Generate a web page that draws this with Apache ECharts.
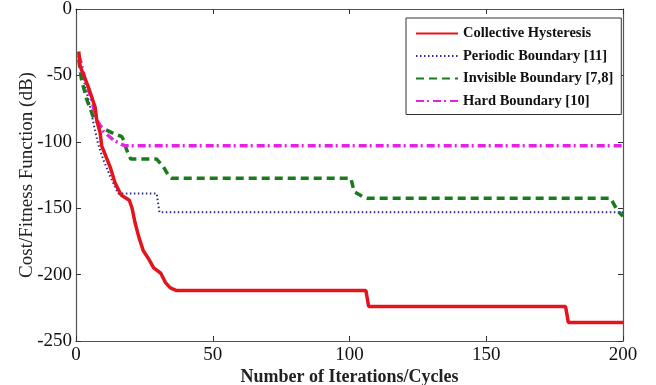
<!DOCTYPE html>
<html>
<head>
<meta charset="utf-8">
<script src="https://cdn.jsdelivr.net/npm/echarts@6/dist/echarts.min.js"></script>
<style>
  html, body { margin: 0; padding: 0; background: #fff; }
  #chart { width: 656px; height: 385px; }
</style>
</head>
<body>
<div id="chart"></div>
<script>
// iterations and cost values
const hysteresisIter = [1, 1.5, 4.4, 7, 7.6, 8.8, 9.4, 12.5, 14.3, 16.5, 19.5, 20.5, 21.6, 23, 24.6, 26.5, 28.4, 31, 32.7, 34.5, 36.8, 106, 107, 179, 180, 200]
const hysteresisVal = [-32, -43, -58, -74, -84, -93, -103, -119, -131, -140, -144, -150, -161, -172, -182, -188, -195, -199, -206, -210, -212, -212, -224, -224, -236, -236]

const periodicIter = [1, 3, 5, 6.5, 8, 9.9, 12.5, 15.4, 29.5, 30.5, 200]
const periodicVal = [-38, -55, -72, -87, -101, -113, -126, -139, -139, -153, -153]

const invisibleIter = [1, 2, 3.9, 6.3, 8.7, 11, 14, 16.7, 17.5, 18.5, 20, 29.5, 32, 34, 35, 100.5, 101.7, 105, 106.5, 195.5, 198, 200]
const invisibleVal = [-38, -53, -68, -81, -88, -91, -94, -96, -99, -106, -113, -113, -119, -126, -127.5, -127.5, -137.5, -141.5, -142.5, -142.5, -152, -156]

const hardIter = [1, 1.5, 3.3, 5.7, 7.5, 10, 13.6, 16.7, 18, 200]
const hardVal = [-35, -38, -53, -68, -83, -92, -98.5, -102, -103, -103]

const seriesNames = ['Collective Hysteresis', 'Periodic Boundary [11]', 'Invisible Boundary [7,8]', 'Hard Boundary [10]']

const pairs = (xs, ys) => xs.map((x, i) => [x, ys[i]])

const chart = echarts.init(document.getElementById('chart'))

const font = 'Liberation Serif'
const axisColor = '#555'

const boxAxis = {
  axisLine: { show: true, onZero: false, lineStyle: { color: axisColor, width: 1.2 } },
  axisTick: { show: true, inside: true, length: 5, lineStyle: { color: '#333' } },
  splitLine: { show: false }
}

chart.setOption({
  animation: false,
  backgroundColor: '#fff',
  grid: { left: 76, right: 33, top: 9, bottom: 44, containLabel: false, outerBoundsMode: 'none' },
  legend: {
    data: seriesNames,
    orient: 'vertical',
    left: 406,
    top: 18,
    padding: [8, 8, 6, 9],
    itemWidth: 42,
    itemHeight: 14,
    itemGap: 7.5,
    backgroundColor: '#fff',
    borderColor: '#333',
    borderWidth: 1,
    itemStyle: { opacity: 0 },
    textStyle: { fontFamily: font, fontWeight: 'bold', fontSize: 14.5, color: '#111' }
  },
  xAxis: [
    {
      type: 'value', min: 0, max: 200, interval: 50,
      name: 'Number of Iterations/Cycles',
      nameLocation: 'middle', nameGap: 27, nameMoveOverlap: false,
      nameTextStyle: { fontFamily: font, fontWeight: 'bold', fontSize: 18, color: '#222' },
      axisLabel: { fontFamily: font, fontSize: 19, color: '#111', margin: 5 },
      ...boxAxis
    },
    {
      type: 'value', min: 0, max: 200, interval: 50, position: 'top',
      axisLabel: { show: false },
      ...boxAxis
    }
  ],
  yAxis: [
    {
      type: 'value', min: -250, max: 0, interval: 50,
      name: 'Cost/Fitness Function (dB)',
      nameLocation: 'middle', nameGap: 39, nameMoveOverlap: false,
      nameTextStyle: { fontFamily: font, fontSize: 19, color: '#222' },
      axisLabel: { fontFamily: font, fontSize: 19, color: '#111', margin: 4 },
      ...boxAxis
    },
    {
      type: 'value', min: -250, max: 0, interval: 50, position: 'right',
      axisLabel: { show: false },
      ...boxAxis
    }
  ],
  series: [
    {
      name: seriesNames[0], type: 'line', symbol: 'none',
      data: pairs(hysteresisIter, hysteresisVal),
      lineStyle: { color: '#e3141b', width: 3.5 },
      itemStyle: { color: '#e3141b' },
      z: 5
    },
    {
      name: seriesNames[1], type: 'line', symbol: 'none',
      data: pairs(periodicIter, periodicVal),
      lineStyle: { color: '#2a2a90', width: 2, type: [1.5, 2.5] },
      itemStyle: { color: '#2a2a90' },
      z: 2
    },
    {
      name: seriesNames[2], type: 'line', symbol: 'none',
      data: pairs(invisibleIter, invisibleVal),
      lineStyle: { color: '#1b7a1b', width: 3.5, type: [8, 5] },
      itemStyle: { color: '#1b7a1b' },
      z: 3
    },
    {
      name: seriesNames[3], type: 'line', symbol: 'none',
      data: pairs(hardIter, hardVal),
      lineStyle: { color: '#e620e6', width: 3.5, type: [8, 3, 2, 4] },
      itemStyle: { color: '#e620e6' },
      z: 4
    }
  ]
})
</script>
</body>
</html>
